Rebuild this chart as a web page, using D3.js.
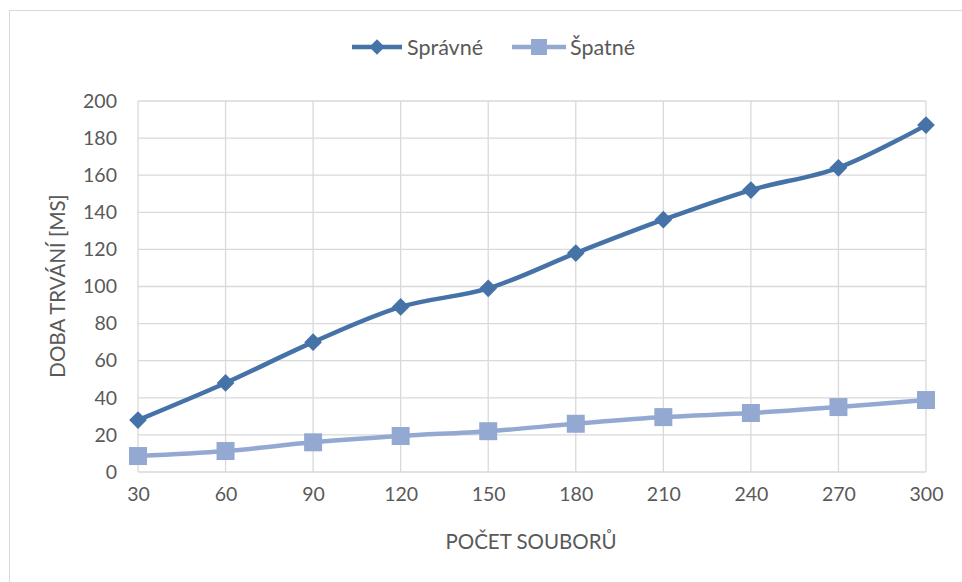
<!DOCTYPE html>
<html><head><meta charset="utf-8">
<script src="https://cdn.jsdelivr.net/npm/d3@7"></script>
<style>body{margin:0;background:#fff}svg{display:block}text{font-family:Lato,"Open Sans",sans-serif;fill:#595959}</style>
</head><body><svg id="c" width="962" height="582"></svg>
<script>
const categories = [30,60,90,120,150,180,210,240,270,300];
const spravne = [28,48,70,89,99,118,136,152,164,187];
const spatne = [8.6,11.3,16,19.4,22,26,29.6,31.8,35,38.8];
const yTicks = [0,20,40,60,80,100,120,140,160,180,200];
const seriesNames = ["Správné","Špatné"];
const colors = ["#4572a7","#94a9d2"];

const svg = d3.select("#c");
svg.append("rect").attr("x",9.5).attr("y",10.5).attr("width",970).attr("height",600)
  .attr("fill","none").attr("stroke","#d9d9d9");

const x = d3.scalePoint().domain(categories).range([138,926]);
const y = d3.scaleLinear().domain([0,200]).range([472,101]);

const g = svg.append("g");
g.selectAll(".hg").data(yTicks).join("line")
  .attr("x1",138).attr("x2",926).attr("y1",d=>y(d)).attr("y2",d=>y(d))
  .attr("stroke","#d9d9d9").attr("stroke-width",1.3);
g.selectAll(".vg").data(categories).join("line")
  .attr("x1",d=>x(d)).attr("x2",d=>x(d)).attr("y1",101).attr("y2",472)
  .attr("stroke","#d9d9d9").attr("stroke-width",1.3);

const yAxis = d3.axisLeft(y).tickValues(yTicks).tickSize(0).tickPadding(21);
const ya = svg.append("g").attr("transform","translate(138,0)").call(yAxis);
ya.select(".domain").remove();
ya.selectAll("text").style("font-size","19.5px").attr("fill","#595959");
const xAxis = d3.axisBottom(x).tickSize(0).tickPadding(15);
const xa = svg.append("g").attr("transform","translate(0,472)").call(xAxis);
xa.select(".domain").remove();
xa.selectAll("text").style("font-size","19.5px").attr("fill","#595959");

svg.append("text").attr("x",531).attr("y",549).attr("text-anchor","middle")
  .style("font-size","20.5px").text("POČET SOUBORŮ");
svg.append("text").attr("transform","translate(65,286) rotate(-90)").attr("text-anchor","middle")
  .style("font-size","20.5px").text("DOBA TRVÁNÍ [MS]");

const line = d3.line().x((d,i)=>x(categories[i])).y(d=>y(d)).curve(d3.curveCatmullRom.alpha(0.5));
[spravne, spatne].forEach((vals,k)=>{
  svg.append("path").attr("d",line(vals)).attr("fill","none")
    .attr("stroke",colors[k]).attr("stroke-width",4.5).attr("stroke-linejoin","round");
});
svg.selectAll(".dm").data(spravne).join("path")
  .attr("d",d3.symbol(d3.symbolDiamond2 || d3.symbolDiamond, 200))
  .attr("transform",(d,i)=>`translate(${x(categories[i])},${y(d)})`)
  .attr("fill",colors[0]);
svg.selectAll(".sm").data(spatne).join("rect")
  .attr("x",(d,i)=>x(categories[i])-9).attr("y",d=>y(d)-9)
  .attr("width",18).attr("height",18).attr("fill",colors[1]);

const lg = svg.append("g");
lg.append("line").attr("x1",352).attr("x2",402).attr("y1",47).attr("y2",47).attr("stroke",colors[0]).attr("stroke-width",4.5);
lg.append("path").attr("d",d3.symbol(d3.symbolDiamond2 || d3.symbolDiamond,150)).attr("transform","translate(377,47)").attr("fill",colors[0]);
lg.append("text").attr("x",407).attr("y",55).style("font-size","21.5px").text(seriesNames[0]);
lg.append("line").attr("x1",512).attr("x2",566).attr("y1",47).attr("y2",47).attr("stroke",colors[1]).attr("stroke-width",4.5);
lg.append("rect").attr("x",531).attr("y",39).attr("width",16).attr("height",16).attr("fill",colors[1]);
lg.append("text").attr("x",570).attr("y",55).style("font-size","21.5px").text(seriesNames[1]);
</script></body></html>
